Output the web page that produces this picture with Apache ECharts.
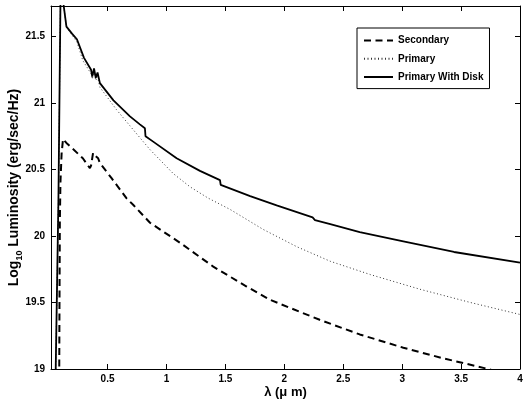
<!DOCTYPE html>
<html><head><meta charset="utf-8">
<script src="https://cdn.jsdelivr.net/npm/echarts@6/dist/echarts.min.js"></script>
<style>html,body{margin:0;padding:0;background:#fff}#c{width:525px;height:402px}</style>
</head><body><div id="c"></div>
<script>
// Secondary (dashed)
const secLambda = [0.088, 0.092, 0.095, 0.10, 0.11, 0.122, 0.151, 0.20, 0.29, 0.35, 0.36, 0.377, 0.39, 0.40, 0.42, 0.434, 0.534, 0.66, 0.717, 0.86, 1.114, 1.397, 1.68, 1.88, 2.30, 2.64, 3.01, 3.35, 3.73, 3.80];
const secLum    = [18.5, 19.5, 20.1, 20.4, 20.62, 20.73, 20.70, 20.66, 20.585, 20.51, 20.53, 20.625, 20.635, 20.60, 20.585, 20.55, 20.435, 20.285, 20.235, 20.10, 19.95, 19.77, 19.62, 19.52, 19.37, 19.26, 19.16, 19.08, 19.0, 18.98];
// Primary (dotted)
const priLambda = [0.055, 0.06, 0.083, 0.10, 0.11, 0.12, 0.128, 0.151, 0.20, 0.24, 0.29, 0.36, 0.37, 0.385, 0.40, 0.415, 0.434, 0.576, 0.689, 0.774, 0.86, 1.057, 1.2, 1.354, 1.54, 1.82, 2.105, 2.39, 2.73, 3.15, 3.58, 4.0];
const priLum    = [18.5, 19.0, 20.27, 21.73, 21.85, 21.85, 21.73, 21.575, 21.51, 21.46, 21.32, 21.22, 21.18, 21.24, 21.17, 21.20, 21.12, 20.95, 20.83, 20.74, 20.65, 20.47, 20.37, 20.285, 20.20, 20.05, 19.92, 19.81, 19.71, 19.60, 19.50, 19.41];
// Primary With Disk (solid)
const diskLambda = [0.055, 0.06, 0.083, 0.10, 0.11, 0.12, 0.128, 0.151, 0.20, 0.24, 0.30, 0.36, 0.37, 0.385, 0.40, 0.415, 0.435, 0.55, 0.69, 0.774, 0.817, 0.822, 0.887, 1.086, 1.284, 1.454, 1.46, 1.71, 1.935, 2.24, 2.26, 2.39, 2.64, 3.01, 3.44, 4.0];
const diskLum    = [18.5, 19.0, 20.27, 21.73, 21.85, 21.85, 21.73, 21.575, 21.52, 21.48, 21.34, 21.25, 21.20, 21.26, 21.19, 21.23, 21.15, 21.02, 20.90, 20.84, 20.81, 20.75, 20.71, 20.585, 20.49, 20.42, 20.385, 20.30, 20.23, 20.14, 20.12, 20.09, 20.03, 19.96, 19.88, 19.80];

const seriesNames = ['Secondary', 'Primary', 'Primary With Disk'];
const xMin = 0.02, xMax = 4, yMin = 19, yMax = 21.73;

function pairs(xs, ys) { return xs.map((x, i) => [x, ys[i]]); }

const FONT = "'Liberation Sans', Arial, Helvetica, sans-serif";
const chart = echarts.init(document.getElementById('c'), null, {renderer: 'canvas'});

const axisCommon = {
  type: 'value',
  axisLine: {show: true, onZero: false, lineStyle: {color: '#000', width: 1}},
  axisTick: {show: true, inside: true, length: 5, lineStyle: {color: '#000', width: 1}},
  splitLine: {show: false},
  axisLabel: {color: '#000', fontSize: 10, fontWeight: 'bold', fontFamily: FONT, showMinLabel: false, showMaxLabel: false}
};

chart.setOption({
  animation: false,
  backgroundColor: '#fff',
  grid: {left: 51, right: 5, top: 6, bottom: 33, containLabel: false, outerBoundsMode: 'none'},
  xAxis: [
    Object.assign({}, axisCommon, {
      position: 'bottom', min: xMin, max: xMax, splitNumber: 8,
      axisLabel: Object.assign({}, axisCommon.axisLabel, {margin: 5, showMaxLabel: true}),
      name: 'λ (μ m)', nameLocation: 'middle', nameGap: 17, nameMoveOverlap: false,
      nameTextStyle: {color: '#000', fontSize: 13, fontWeight: 'bold', fontFamily: FONT}
    }),
    Object.assign({}, axisCommon, {
      position: 'top', min: xMin, max: xMax, splitNumber: 8,
      axisLabel: {show: false}
    })
  ],
  yAxis: [
    Object.assign({}, axisCommon, {
      position: 'left', min: yMin, max: yMax, interval: 0.5,
      axisLabel: Object.assign({}, axisCommon.axisLabel, {margin: 6, showMinLabel: true}),
      name: '{a|Log}{b|10}{a| Luminosity (erg/sec/Hz)}', nameLocation: 'middle', nameGap: 30, nameMoveOverlap: false,
      nameTextStyle: {
        color: '#000', fontFamily: FONT,
        rich: {
          a: {fontSize: 14, fontWeight: 'bold', fontFamily: FONT, color: '#000', lineHeight: 18, verticalAlign: 'bottom'},
          b: {fontSize: 9, fontWeight: 'bold', fontFamily: FONT, color: '#000', lineHeight: 18, verticalAlign: 'bottom', padding: [0, 0, -3, 0]}
        }
      }
    }),
    Object.assign({}, axisCommon, {
      position: 'right', min: yMin, max: yMax, interval: 0.5,
      axisLabel: {show: false}
    })
  ],
  legend: {
    orient: 'vertical', left: 357, top: 28,
    data: seriesNames,
    itemWidth: 29, itemHeight: 14, itemGap: 7,
    padding: [7, 6, 6, 6],
    itemStyle: {opacity: 0},
    backgroundColor: '#fff', borderColor: '#000', borderWidth: 1, borderRadius: 0,
    textStyle: {color: '#000', fontSize: 10, fontWeight: 'bold', fontFamily: FONT}
  },
  series: [
    {
      name: seriesNames[0], type: 'line', xAxisIndex: 0, yAxisIndex: 0,
      data: pairs(secLambda, secLum), symbol: 'none', showSymbol: false, clip: true,
      lineStyle: {color: '#000', width: 2, type: [7, 4.5]}, itemStyle: {color: '#000'}, z: 3
    },
    {
      name: seriesNames[1], type: 'line', xAxisIndex: 0, yAxisIndex: 0,
      data: pairs(priLambda, priLum), symbol: 'none', showSymbol: false, clip: true,
      lineStyle: {color: '#333', width: 1, type: [1, 2.5]}, itemStyle: {color: '#333'}, z: 2
    },
    {
      name: seriesNames[2], type: 'line', xAxisIndex: 0, yAxisIndex: 0,
      data: pairs(diskLambda, diskLum), symbol: 'none', showSymbol: false, clip: true,
      lineStyle: {color: '#000', width: 1.8, type: 'solid'}, itemStyle: {color: '#000'}, z: 4
    }
  ]
});
</script>
</body></html>
